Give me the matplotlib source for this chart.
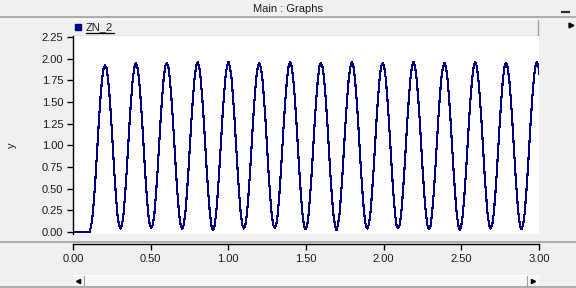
import numpy as np
import matplotlib
matplotlib.use("Agg")
from matplotlib import pyplot as plt
from matplotlib.patches import Rectangle

plt.rcParams['font.family'] = ['Liberation Sans', 'DejaVu Sans']

# ZN_2 samples, one row per oscillation (trough -> peak -> back)
zn2_cycles = [
    [0.00, 0.07, 0.20, 0.42, 0.68, 0.98, 1.28, 1.54, 1.75, 1.88, 1.92, 1.89, 1.76, 1.55, 1.29, 0.99, 0.69, 0.43, 0.21, 0.08],
    [0.04, 0.08, 0.21, 0.43, 0.69, 0.99, 1.29, 1.55, 1.77, 1.90, 1.95, 1.90, 1.77, 1.55, 1.29, 0.99, 0.69, 0.43, 0.21, 0.08],
    [0.05, 0.08, 0.21, 0.43, 0.69, 0.99, 1.29, 1.55, 1.77, 1.91, 1.95, 1.91, 1.77, 1.55, 1.29, 0.99, 0.69, 0.43, 0.21, 0.08],
    [0.03, 0.08, 0.21, 0.43, 0.69, 0.99, 1.29, 1.55, 1.77, 1.91, 1.96, 1.91, 1.77, 1.55, 1.29, 0.99, 0.69, 0.43, 0.21, 0.07],
    [0.02, 0.07, 0.21, 0.43, 0.69, 0.99, 1.29, 1.55, 1.77, 1.91, 1.96, 1.90, 1.77, 1.55, 1.29, 0.99, 0.69, 0.43, 0.21, 0.08],
    [0.04, 0.08, 0.21, 0.43, 0.69, 0.99, 1.29, 1.55, 1.77, 1.90, 1.95, 1.90, 1.77, 1.55, 1.29, 0.99, 0.69, 0.43, 0.21, 0.08],
    [0.05, 0.08, 0.21, 0.43, 0.69, 0.99, 1.29, 1.55, 1.77, 1.91, 1.96, 1.91, 1.77, 1.55, 1.29, 0.99, 0.69, 0.43, 0.21, 0.07],
    [0.03, 0.07, 0.21, 0.43, 0.69, 0.99, 1.29, 1.55, 1.77, 1.91, 1.95, 1.90, 1.77, 1.55, 1.29, 0.99, 0.69, 0.43, 0.21, 0.08],
    [0.02, 0.08, 0.21, 0.43, 0.69, 0.99, 1.29, 1.55, 1.77, 1.90, 1.96, 1.91, 1.77, 1.55, 1.29, 0.99, 0.69, 0.43, 0.21, 0.08],
    [0.04, 0.08, 0.21, 0.43, 0.69, 0.99, 1.29, 1.55, 1.77, 1.91, 1.95, 1.90, 1.77, 1.55, 1.29, 0.99, 0.69, 0.43, 0.21, 0.07],
    [0.05, 0.08, 0.21, 0.43, 0.69, 0.99, 1.29, 1.55, 1.77, 1.91, 1.96, 1.91, 1.77, 1.55, 1.29, 0.99, 0.69, 0.43, 0.21, 0.08],
    [0.03, 0.07, 0.21, 0.43, 0.69, 0.99, 1.29, 1.55, 1.77, 1.90, 1.95, 1.90, 1.77, 1.55, 1.29, 0.99, 0.69, 0.43, 0.21, 0.08],
    [0.02, 0.08, 0.21, 0.43, 0.69, 0.99, 1.29, 1.55, 1.77, 1.91, 1.96, 1.91, 1.77, 1.55, 1.29, 0.99, 0.69, 0.43, 0.21, 0.08],
    [0.04, 0.08, 0.21, 0.43, 0.69, 0.99, 1.29, 1.55, 1.77, 1.91, 1.95, 1.90, 1.77, 1.55, 1.29, 0.99, 0.69, 0.43, 0.21, 0.07],
    [0.03, 0.08, 0.21, 0.43, 0.69, 0.99, 1.29, 1.55, 1.77, 1.91, 1.96, 1.91, 1.77, 1.55, 1.29, 0.99, 0.69, 0.43, 0.21, 0.08],
]
zn2_last = 0.04
t_first = 0.107   # first trough, signal is 0 before that
t_step = 0.00993  # sample spacing

x_ticks = [0.0, 0.5, 1.0, 1.5, 2.0, 2.5, 3.0]
y_ticks = [0.0, 0.25, 0.5, 0.75, 1.0, 1.25, 1.5, 1.75, 2.0, 2.25]

zn2 = np.array([v for row in zn2_cycles for v in row] + [zn2_last])
t = t_first + t_step * np.arange(len(zn2))
t = np.concatenate([[0.0], t])
zn2 = np.concatenate([[0.0], zn2])

W, H = 576, 288
BG = '#F0F0F0'
EDGE = '#A0A0A0'
TXT = '#1a1a1a'


def px(x0, y0, x1, y1):
    return [x0 / W, 1 - y1 / H, (x1 - x0) / W, (y1 - y0) / H]


fig = plt.figure(figsize=(5.76, 2.88), dpi=100, facecolor=BG)

# window chrome drawn in pixel coordinates
bg = fig.add_axes([0, 0, 1, 1])
bg.set_xlim(0, W)
bg.set_ylim(H, 0)
bg.axis('off')
bg.set_zorder(0)
bg.text(288, 9, 'Main : Graphs', ha='center', va='center', fontsize=8, color=TXT)
bg.plot([0, W], [17, 17], color=EDGE, lw=1.2)
bg.plot([561, 570], [12, 12], color='#303030', lw=1.6, solid_capstyle='butt')
bg.plot([0, W], [242, 242], color=EDGE, lw=1.2)
bg.plot([0, W], [287, 287], color=EDGE, lw=1.2)
# legend strip
bg.plot([73, 538], [36, 36], color=EDGE, lw=1.0)
bg.plot([538, 538], [19, 36], color=EDGE, lw=1.0)
bg.plot([73, 538], [19, 19], color='white', lw=0.8)
bg.plot([78], [27], marker='s', ms=4.5, color='#000080', ls='none')
bg.text(86, 27.5, 'ZN_2', ha='left', va='center', fontsize=8, color=TXT)
bg.plot([86, 114], [33, 33], color='black', lw=0.9)
bg.plot([571], [25], marker='>', ms=3.5, color='black', ls='none')
bg.text(12, 145, 'y', ha='center', va='center', fontsize=8, color=TXT, rotation=90)
# scrollbar
bg.add_patch(Rectangle((73, 275), 466, 11, facecolor='#F7F7F7', edgecolor='none'))
bg.plot([73, 539], [275, 275], color='white', lw=0.8)
bg.plot([84, 84], [276, 286], color=EDGE, lw=0.8)
bg.plot([527, 527], [276, 286], color=EDGE, lw=0.8)
bg.plot([78], [281], marker='<', ms=3, color='black', ls='none')
bg.plot([533], [281], marker='>', ms=3, color='black', ls='none')

# plot area
ax = fig.add_axes(px(73, 36, 539, 234))
ax.set_zorder(1)
ax.set_facecolor('white')
ax.plot(t, zn2, color='#000080', lw=0.8, antialiased=False)
ax.set_xlim(0, 3)
ax.set_ylim(-0.023, 2.26)
ax.set_yticks(y_ticks)
ax.set_yticklabels(['%.2f' % v for v in y_ticks])
ax.set_xticks([])
for s in ['top', 'right', 'bottom']:
    ax.spines[s].set_visible(False)
ax.spines['left'].set_color('black')
ax.spines['left'].set_linewidth(1.0)
ax.tick_params(axis='y', length=4, width=1.0, pad=3, labelsize=8, labelcolor=TXT)

# x axis strip below the plot
axb = fig.add_axes(px(73, 244, 539, 244.01))
axb.set_zorder(1)
axb.patch.set_visible(False)
axb.set_xlim(0, 3)
axb.set_yticks([])
axb.set_xticks(x_ticks)
axb.set_xticklabels(['%.2f' % v for v in x_ticks])
for s in ['top', 'right', 'left']:
    axb.spines[s].set_visible(False)
axb.spines['bottom'].set_linewidth(1.0)
axb.tick_params(axis='x', length=4, width=1.0, pad=3, labelsize=8, labelcolor=TXT)

fig.savefig('out.png', dpi=100, facecolor=BG)
